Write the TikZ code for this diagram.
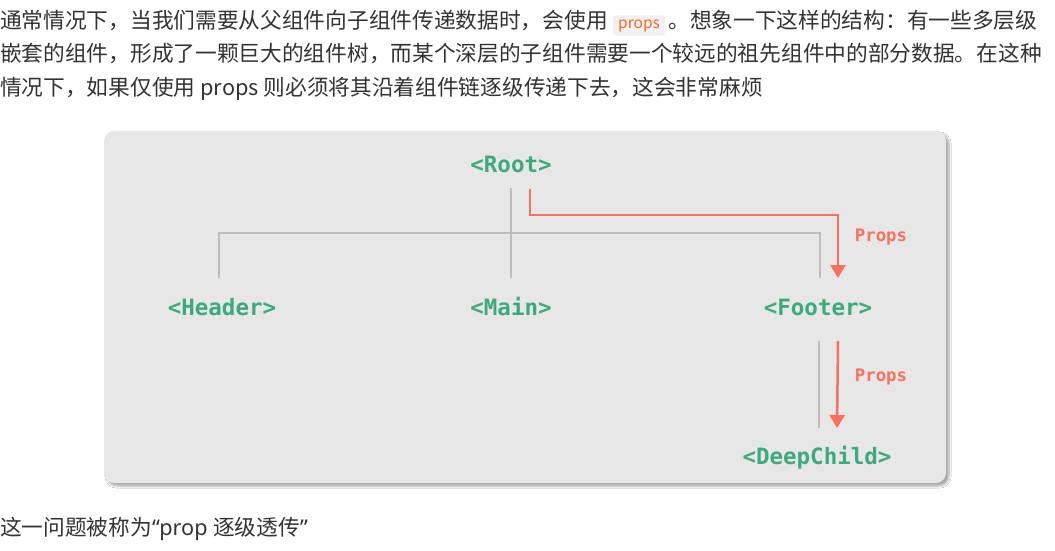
\documentclass[tikz,border=0pt]{standalone}
\usepackage{fontspec}
\setmainfont{Noto Sans CJK SC}
\newfontfamily\codefont{DejaVu Sans Mono}
\newfontfamily\latinfont{Noto Sans}
\usetikzlibrary{positioning,arrows.meta,shadows.blur}

\definecolor{vuegreen}{HTML}{3EAA7C}
\definecolor{propred}{HTML}{F9705E}
\definecolor{treegray}{HTML}{BDBDBD}
\definecolor{panelgray}{HTML}{E7E7E7}
\definecolor{bodytext}{HTML}{333333}
\definecolor{badgefill}{HTML}{F1F1F1}
\definecolor{badgetext}{HTML}{EE6A30}

\tikzset{
  para/.style={anchor=base west, inner sep=0pt, text=bodytext,
    font=\fontsize{21.7}{26}\selectfont},
  badge/.style={fill=badgefill, rounded corners=3pt, inner xsep=5pt, inner ysep=4pt,
    text=badgetext, font=\fontsize{15.5}{18}\selectfont},
  comp/.style={anchor=base, inner sep=0pt, text=vuegreen,
    font=\codefont\bfseries\fontsize{22.5}{25}\selectfont},
  propslabel/.style={anchor=base, inner sep=0pt, text=propred,
    font=\codefont\bfseries\fontsize{17.3}{20}\selectfont},
  tree/.style={treegray, line width=1.5pt},
  pass/.style={propred, line width=2.5pt, -{Triangle[width=15pt,length=13pt]}}
}

\begin{document}
\begin{tikzpicture}[x=1pt,y=-1pt]
      \useasboundingbox[fill=white] (0,0) rectangle (1055,550);
      % text above
      \node[para] (l1a) at (0,28) {通常情况下，当我们需要从父组件向子组件传递数据时，会使用};
      \node[badge, base right=5pt of l1a] (code) {props};
      \node[para, base right=3pt of code] (l1b) {。想象一下这样的结构：有一些多层级};
      \node[para] (l2) at (0,61) {嵌套的组件，形成了一颗巨大的组件树，而某个深层的子组件需要一个较远的祖先组件中的部分数据。在这种};
      \node[para] (l3) at (0,95) {情况下，如果仅使用 props 则必须将其沿着组件链逐级传递下去，这会非常麻烦};
      % panel
      \fill[panelgray, rounded corners=10pt,
        blur shadow={shadow xshift=3pt, shadow yshift=-3pt, shadow blur steps=8, shadow opacity=35}]
        (104,131) rectangle (946,483);
      % components
      \node[comp] (root) at (511,172) {<Root>};
      \node[comp] (header) at (222,315) {<Header>};
      \node[comp] (main) at (511,315) {<Main>};
      \node[comp] (footer) at (818,315) {<Footer>};
      \node[comp] (deep) at (817,464) {<DeepChild>};
      % tree lines
      \coordinate (split) at (511,233);
      \draw[tree] ([yshift=-16pt]root.base) -- ([yshift=37pt]main.base);
      \draw[tree] ([xshift=-3pt,yshift=37pt]header.base) |- (split) -| ([xshift=2pt,yshift=37pt]footer.base);
      \draw[tree] ([xshift=1pt,yshift=-26pt]footer.base) -- ([xshift=2pt,yshift=36pt]deep.base);
      % props passing
      \coordinate (bend) at (838,215);
      \draw[pass] ([xshift=19pt,yshift=-17pt]root.base) |- (bend) -- ([xshift=20pt,yshift=37pt]footer.base);
      \draw[pass] ([xshift=20pt,yshift=-26pt]footer.base) -- ([xshift=20pt,yshift=36pt]deep.base);
      \node[propslabel] (p1) at (881,241) {Props};
      \node[propslabel] (p2) at (881,381) {Props};
      % text below
      \node[para] (l4) at (0,535) {这一问题被称为{\latinfont “prop }逐级透传{\latinfont ”}};
\end{tikzpicture}
\end{document}
